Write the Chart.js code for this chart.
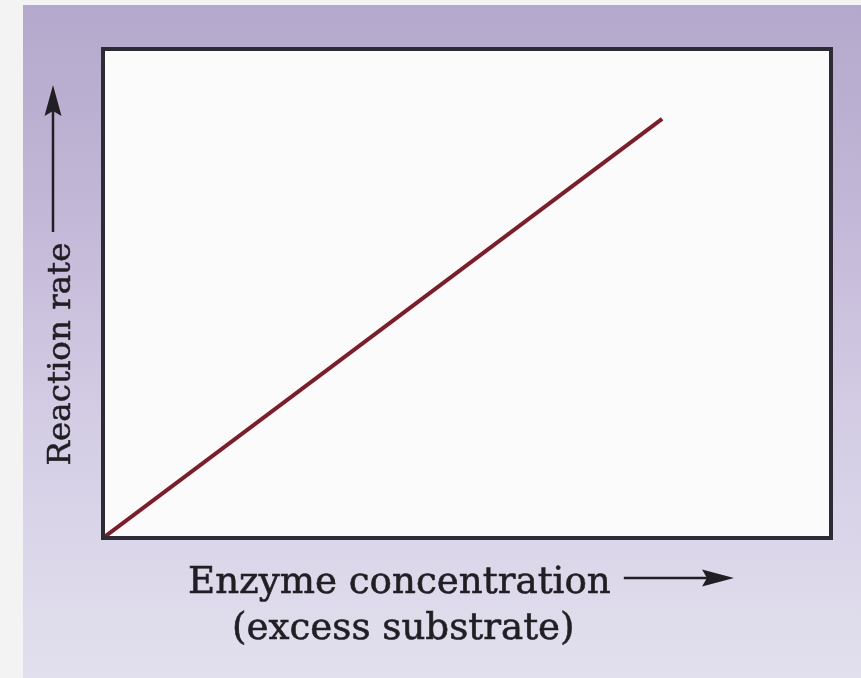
<!DOCTYPE html>
<html>
<head>
<meta charset="utf-8">
<script src="https://cdn.jsdelivr.net/npm/chart.js@4.4.1/dist/chart.umd.min.js"></script>
<style>
  html, body { margin: 0; padding: 0; background: #f3f3f3; }
  #wrap { position: absolute; left: 0; top: 0; width: 861px; height: 678px; }
</style>
</head>
<body>
<div id="wrap"><canvas id="c" width="861" height="678"></canvas></div>
<script>
// Data (axes run 0..100, no numeric ticks shown)
const enzymeConcentration = [0, 76.8];
const reactionRate = [0, 85.7];
const xAxisLabel = ["Enzyme concentration", "(excess substrate)"];
const yAxisLabel = "Reaction rate";

const points = enzymeConcentration.map((x, i) => ({ x: x, y: reactionRate[i] }));

const decorPlugin = {
  id: 'decor',
  beforeDraw(chart) {
    const ctx = chart.ctx;
    const a = chart.chartArea;
    ctx.save();
    ctx.fillStyle = '#f3f3f3';
    ctx.fillRect(0, 0, chart.width, chart.height);
    const g = ctx.createLinearGradient(0, 5, 0, chart.height);
    g.addColorStop(0, '#b4a8cc');
    g.addColorStop(0.3, '#c3b7d7');
    g.addColorStop(0.6, '#d3cce4');
    g.addColorStop(1, '#e2e0ee');
    ctx.fillStyle = g;
    ctx.fillRect(23, 5, chart.width - 23, chart.height - 5);
    ctx.fillStyle = '#fbfbfb';
    ctx.fillRect(a.left, a.top, a.right - a.left, a.bottom - a.top);
    ctx.restore();
  },
  afterDraw(chart) {
    const ctx = chart.ctx;
    const a = chart.chartArea;
    ctx.save();
    ctx.strokeStyle = '#2e2a36';
    ctx.lineWidth = 4;
    ctx.strokeRect(a.left, a.top, a.right - a.left, a.bottom - a.top);

    ctx.fillStyle = '#211e24';
    ctx.strokeStyle = '#211e24';
    // x-axis title
    ctx.font = '37.2px "DejaVu Serif", serif';
    ctx.textBaseline = 'alphabetic';
    ctx.textAlign = 'left';
    ctx.lineWidth = 0.6;
    ctx.fillText(xAxisLabel[0], 188, 593);
    ctx.strokeText(xAxisLabel[0], 188, 593);
    const w1 = ctx.measureText(xAxisLabel[0]).width;
    ctx.fillText(xAxisLabel[1], 232, 639);
    ctx.strokeText(xAxisLabel[1], 232, 639);
    // x arrow
    const ax0 = 188 + w1 + 13, ay = 578;
    ctx.lineWidth = 2.5;
    ctx.beginPath(); ctx.moveTo(ax0, ay); ctx.lineTo(712, ay); ctx.stroke();
    ctx.beginPath(); ctx.moveTo(734, ay); ctx.lineTo(702, ay - 8.5); ctx.lineTo(707, ay); ctx.lineTo(702, ay + 8.5); ctx.closePath(); ctx.fill();

    // y-axis title (rotated)
    ctx.save();
    ctx.translate(70, 354);
    ctx.rotate(-Math.PI / 2);
    ctx.font = '32.5px "DejaVu Serif", serif';
    ctx.textAlign = 'center';
    ctx.lineWidth = 0.5;
    ctx.fillText(yAxisLabel, 0, 0);
    ctx.strokeText(yAxisLabel, 0, 0);
    ctx.restore();
    // y arrow
    ctx.lineWidth = 2.5;
    ctx.beginPath(); ctx.moveTo(53, 232); ctx.lineTo(53, 105); ctx.stroke();
    ctx.beginPath(); ctx.moveTo(53, 85); ctx.lineTo(44.5, 116); ctx.lineTo(53, 111); ctx.lineTo(61.5, 116); ctx.closePath(); ctx.fill();
    ctx.restore();
  }
};

new Chart(document.getElementById('c'), {
  type: 'line',
  data: {
    datasets: [{
      data: points,
      borderColor: '#7c1d2c',
      borderWidth: 4,
      pointRadius: 0,
      fill: false,
      tension: 0
    }]
  },
  options: {
    responsive: false,
    animation: false,
    devicePixelRatio: 1,
    layout: { padding: { left: 103, top: 49, right: 30, bottom: 140 } },
    plugins: { legend: { display: false }, tooltip: { enabled: false } },
    scales: {
      x: { type: 'linear', min: 0, max: 100, display: false },
      y: { type: 'linear', min: 0, max: 100, display: false }
    }
  },
  plugins: [decorPlugin]
});
</script>
</body>
</html>
